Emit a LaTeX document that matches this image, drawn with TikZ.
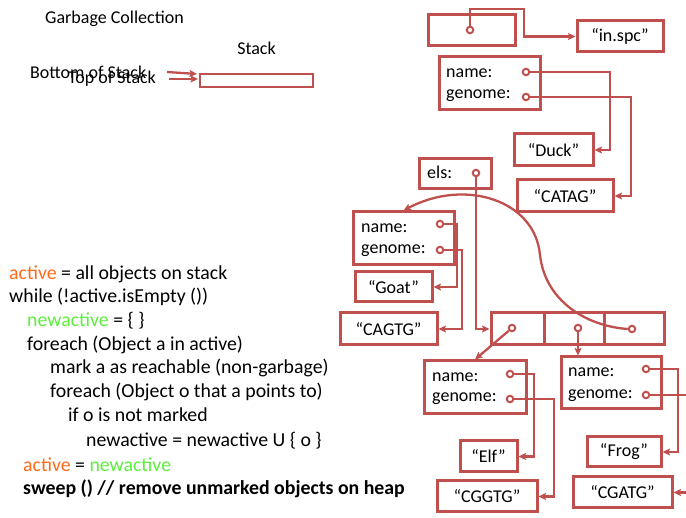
\documentclass[tikz,border=0pt]{standalone}
\usepackage{fontspec}
\setmainfont{Carlito}
\usetikzlibrary{arrows.meta}
\definecolor{boxred}{HTML}{C0504D}
\definecolor{kwor}{HTML}{FF6A1A}
\definecolor{kwgr}{HTML}{5CF03C}
\tikzset{
  txt/.style={inner sep=0pt, font=\fontsize{18}{21}\selectfont},
  code/.style={inner sep=0pt, anchor=base west, font=\fontsize{19.8}{23.5}\selectfont},
  box/.style={draw=boxred, line width=3pt, inner sep=0pt, font=\fontsize{18}{21}\selectfont},
  cell/.style={box, minimum height=32pt},
  fld/.style={txt, anchor=base west},
  dot/.style={circle, draw=boxred, fill=white, line width=2pt, inner sep=0pt, minimum size=6.5pt},
  ptr/.style={draw=boxred, line width=2.3pt, -{Stealth[length=7.5pt,width=7pt,inset=1.5pt]}},
}
\begin{document}
\begin{tikzpicture}[x=1pt,y=-1pt]
\useasboundingbox (0,0) rectangle (686,518);

% ---- titles and stack ----
\node[txt, anchor=base] (title) at (114.5,24) {Garbage Collection};
\node[txt, anchor=base] (stacklbl) at (256.5,55) {Stack};
\node[txt, anchor=base west] (bottom) at (30,79) {Bottom of Stack};
\node[txt, anchor=base west] (topst) at (68,84) {Top of Stack};
\node[draw=boxred, line width=2.6pt, minimum width=113pt, minimum height=13pt, inner sep=0pt] (stack) at (256.5,80.5) {};
\coordinate (bsA) at (167,72);
\coordinate (bsB) at (197,74);
\coordinate (tsA) at (169,79);
\coordinate (tsB) at (198,79);
\draw[ptr] (bsA) -- (bsB);
\draw[ptr] (tsA) -- (tsB);

% ---- pseudo code ----
\node[code] (l1) at (9,280) {\textcolor{kwor}{active} = all objects on stack};
\node[code] (l2) at (9,303) {while (!active.isEmpty ())};
\node[code] (l3) at (27,327) {\textcolor{kwgr}{newactive} = \{ \}};
\node[code] (l4) at (27,351) {foreach (Object a in active)};
\node[code] (l5) at (50,374) {mark a as reachable (non-garbage)};
\node[code] (l6) at (50,398) {foreach (Object o that a points to)};
\node[code] (l7) at (68,422) {if o is not marked};
\node[code] (l8) at (86,447) {newactive = newactive U \{ o \}};
\node[code] (l9) at (23,472) {\textcolor{kwor}{active} = \textcolor{kwgr}{newactive}};
\node[code] (l10) at (23,495) {\bfseries sweep () // remove unmarked objects on heap};

% ---- heap: top object and file name ----
\node[box, minimum width=87pt, minimum height=31pt] (topobj) at (471.5,30.5) {};
\node[dot] (dTop) at (470,30) {};
\node[box, minimum width=86pt, minimum height=31pt] (inspc) at (620,36.5) {“in.spc”};
\draw[ptr] (dTop.north) -- (470,9) -- (524,9) |- (inspc.west);

% ---- Duck ----
\node[box, minimum width=101pt, minimum height=53pt] (duckobj) at (489.5,83.5) {};
\node[fld] (duckNl) at (446,78) {name:};
\node[fld] (duckGl) at (446,99) {genome:};
\node[dot] (dDuckN) at (526,72) {};
\node[dot] (dDuckG) at (526,97) {};
\node[box, minimum width=79pt, minimum height=32pt] (duck) at (553.5,150) {“Duck”};
\node[box, minimum width=96pt, minimum height=32pt] (catag) at (565,196) {“CATAG”};
\draw[ptr] (dDuckN.east) -- (610,72) |- (duck.east);
\draw[ptr] (dDuckG.east) -- (631,97) |- (catag.east);

% ---- list object and its array ----
\node[box, minimum width=72pt, minimum height=30pt] (els) at (455,174) {};
\node[fld] (elsl) at (427,179) {els:};
\node[dot] (dEls) at (476,173) {};
\node[cell, minimum width=53pt] (arr1) at (517.5,329) {};
\node[cell, minimum width=60pt] (arr2) at (574,329) {};
\node[cell, minimum width=60pt] (arr3) at (634,329) {};
\node[dot] (dC1) at (512,328) {};
\node[dot] (dC2) at (578,328) {};
\node[dot] (dC3) at (632,329) {};
\draw[ptr] (dEls.south) |- (arr1.west);

% ---- Goat ----
\node[box, minimum width=101pt, minimum height=53pt] (goatobj) at (403.5,238.5) {};
\node[fld] (goatNl) at (361,233) {name:};
\node[fld] (goatGl) at (361,254) {genome:};
\node[dot] (dGoatN) at (440,224) {};
\node[dot] (dGoatG) at (440,250) {};
\node[box, minimum width=77pt, minimum height=30pt] (goat) at (393.5,287) {“Goat”};
\node[box, minimum width=97pt, minimum height=32pt] (cagtg) at (388.5,329) {“CAGTG”};
\draw[ptr] (dGoatN.east) -- (457,224) |- (goat.east);
\draw[ptr] (dGoatG.east) -- (462,250) |- (cagtg.east);

% ---- Elf ----
\node[box, minimum width=102pt, minimum height=53pt] (elfobj) at (475,387.5) {};
\node[fld] (elfNl) at (432,382) {name:};
\node[fld] (elfGl) at (432,402) {genome:};
\node[dot] (dElfN) at (510,374) {};
\node[dot] (dElfG) at (510,399) {};
\node[box, minimum width=57pt, minimum height=31pt] (elf) at (488.5,456.5) {“Elf”};
\node[box, minimum width=100pt, minimum height=31pt] (cggtg) at (487,496.5) {“CGGTG”};
\draw[ptr] (dElfN.east) -- (534,374) |- (elf.east);
\draw[ptr] (dElfG.east) -- (554,399) |- (cggtg.east);

% ---- Frog ----
\node[box, minimum width=100pt, minimum height=52pt] (frogobj) at (611,383) {};
\node[fld] (frogNl) at (568,377) {name:};
\node[fld] (frogGl) at (568,399) {genome:};
\node[dot] (dFrogN) at (646,369) {};
\node[dot] (dFrogG) at (646,395) {};
\node[box, minimum width=74pt, minimum height=30pt] (frog) at (624,452) {“Frog”};
\node[box, minimum width=99pt, minimum height=31pt] (cgatg) at (622.5,492.5) {“CGATG”};
\draw[ptr] (dFrogN.east) -- (678,369) |- (frog.east);
\draw[ptr] (dFrogG.east) -- (694,395) |- (cgatg.east);

% ---- array cells to their objects ----
\draw[ptr] (dC1) -- (elfobj.north);
\draw[ptr] (dC2) -- (dC2 |- frogobj.north);
\draw[ptr] (dC3.west) .. controls (585,326) and (545,300) .. (540,255)
                      .. controls (535,200) and (465,178) .. (goatobj.north);
\end{tikzpicture}
\end{document}
